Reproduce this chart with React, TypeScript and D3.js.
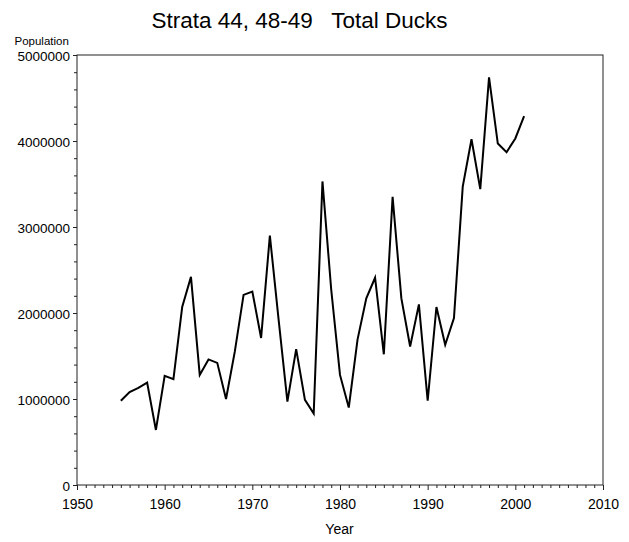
import { useEffect, useRef } from "react"
import * as d3 from "d3"

const years: number[] = d3.range(1955, 2002)

// population estimates, 1955..2001
const population: number[] = [
  980000, 1080000, 1130000, 1190000, 640000, 1270000, 1230000, 2070000, 2420000, 1280000,
  1460000, 1420000, 1000000, 1550000, 2210000, 2250000, 1710000, 2900000, 1920000, 970000,
  1580000, 990000, 830000, 3530000, 2270000, 1280000, 900000, 1690000, 2170000, 2410000,
  1520000, 3350000, 2170000, 1610000, 2100000, 980000, 2070000, 1630000, 1940000, 3470000,
  4020000, 3440000, 4740000, 3970000, 3870000, 4030000, 4290000,
]

const xTicks: number[] = [1950, 1960, 1970, 1980, 1990, 2000, 2010]
const yTicks: number[] = [0, 1000000, 2000000, 3000000, 4000000, 5000000]

export default function App() {
  const svgRef = useRef<SVGSVGElement | null>(null)

  useEffect(() => {
    if (!svgRef.current) return
    const width = 629
    const height = 542
    const left = 77
    const right = 603
    const top = 55
    const bottom = 485

    const svg = d3.select(svgRef.current).attr("width", width).attr("height", height)
    svg.selectAll("*").remove()

    const font = "'Liberation Sans', Arial, sans-serif"

    const x = d3.scaleLinear().domain([1950, 2010]).range([left, right])
    const y = d3.scaleLinear().domain([0, 5000000]).range([bottom, top])

    // frame
    svg
      .append("rect")
      .attr("x", left)
      .attr("y", top)
      .attr("width", right - left)
      .attr("height", bottom - top)
      .attr("fill", "none")
      .attr("stroke", "#222")
      .attr("stroke-width", 1)

    // minor ticks
    const xMinor = d3.range(1950, 2011).filter(v => v % 10 !== 0)
    const yMinor = d3.range(0, 5000001, 200000).filter(v => v % 1000000 !== 0)

    const xAxis = svg
      .append("g")
      .attr("transform", `translate(0,${bottom})`)
      .call(d3.axisBottom(x).tickValues(xMinor).tickSize(3).tickFormat(() => ""))
    xAxis.select(".domain").remove()

    const yAxisMinor = svg
      .append("g")
      .attr("transform", `translate(${left},0)`)
      .call(d3.axisLeft(y).tickValues(yMinor).tickSize(3).tickFormat(() => ""))
    yAxisMinor.select(".domain").remove()

    const xMajor = svg
      .append("g")
      .attr("transform", `translate(0,${bottom})`)
      .call(d3.axisBottom(x).tickValues(xTicks).tickSize(5).tickPadding(9).tickFormat(d3.format("d")))
    xMajor.select(".domain").remove()
    xMajor.selectAll("text").attr("font-family", font).attr("font-size", 14).attr("fill", "#000")

    const yMajor = svg
      .append("g")
      .attr("transform", `translate(${left},0)`)
      .call(d3.axisLeft(y).tickValues(yTicks).tickSize(4).tickPadding(3).tickFormat(d3.format("d")))
    yMajor.select(".domain").remove()
    yMajor
      .selectAll("text")
      .attr("font-family", font)
      .attr("font-size", 13.5)
      .attr("fill", "#000")
      .attr("dy", "0.4em")

    svg.selectAll(".tick line").attr("stroke", "#222")

    // data line
    const line = d3
      .line<number>()
      .x((_, i) => x(years[i]))
      .y(d => y(d))

    svg
      .append("path")
      .datum(population)
      .attr("fill", "none")
      .attr("stroke", "#000")
      .attr("stroke-width", 2)
      .attr("stroke-linejoin", "miter")
      .attr("d", line)

    // titles
    svg
      .append("text")
      .attr("x", 299.5)
      .attr("y", 28)
      .attr("text-anchor", "middle")
      .attr("font-family", font)
      .attr("font-size", 22.5)
      .style("white-space", "pre")
      .text("Strata 44, 48-49   Total Ducks")

    svg
      .append("text")
      .attr("x", 14.5)
      .attr("y", 45)
      .attr("font-family", font)
      .attr("font-size", 11.5)
      .text("Population")

    svg
      .append("text")
      .attr("x", 339.5)
      .attr("y", 534)
      .attr("text-anchor", "middle")
      .attr("font-family", font)
      .attr("font-size", 14)
      .text("Year")
  }, [])

  return (
    <div style={{ position: "absolute", left: 0, top: 0 }}>
      <svg ref={svgRef} style={{ display: "block" }} />
    </div>
  )
}
